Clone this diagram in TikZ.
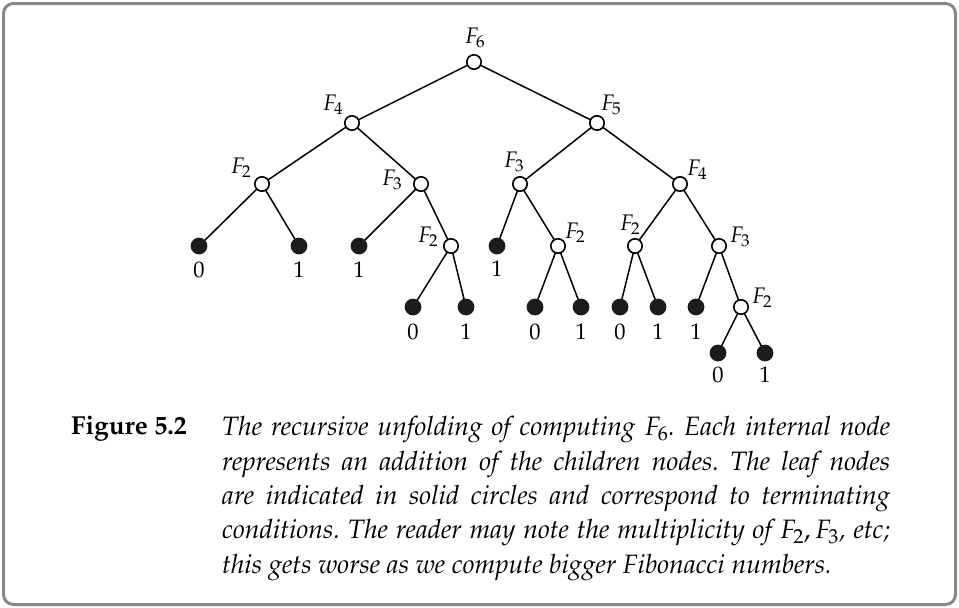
\documentclass[tikz,border=0pt]{standalone}
\usepackage[T1]{fontenc}
\usepackage{mathpazo}
\definecolor{framegray}{RGB}{136,136,136}
\definecolor{leafblack}{RGB}{28,28,28}
\tikzset{
  opennode/.style={circle, draw=black, fill=white, line width=1.6pt, minimum size=14.4pt, inner sep=0pt},
  leafnode/.style={circle, fill=leafblack, draw=none, minimum size=16.8pt, inner sep=0pt},
  edge/.style={draw=black, line width=1.5pt},
  flabel/.style={inner sep=0pt, font=\fontsize{22.5}{26}\selectfont},
  dlabel/.style={inner sep=0pt, font=\fontsize{22.5}{26}\selectfont},
}
\begin{document}
\begin{tikzpicture}[x=1pt,y=-1pt]
\useasboundingbox (0,0) rectangle (959,608);
\draw[framegray, line width=3pt, rounded corners=10pt] (3.5,3.5) rectangle (955.5,604.5);

\coordinate (c6) at (474,62);
\coordinate (c4a) at (352,123);
\coordinate (c5) at (597,123);
\coordinate (c2a) at (262,184);
\coordinate (c3a) at (421,184);
\coordinate (c3b) at (520,184);
\coordinate (c4b) at (680,184);
\coordinate (cl1) at (199,246);
\coordinate (cl2) at (299,246);
\coordinate (cl3) at (359,246);
\coordinate (c2b) at (451,246);
\coordinate (cl4) at (497,246);
\coordinate (c2c) at (558,246);
\coordinate (c2d) at (635,246);
\coordinate (c3c) at (719,246);
\coordinate (cl5) at (413,307);
\coordinate (cl6) at (466,307);
\coordinate (cl7) at (535,307);
\coordinate (cl8) at (581,307);
\coordinate (cl9) at (620,307);
\coordinate (cl10) at (658,307);
\coordinate (cl11) at (696,307);
\coordinate (c2e) at (741,307);
\coordinate (cl12) at (718,353);
\coordinate (cl13) at (765,353);

\path[edge] (c6)--(c4a) (c6)--(c5)
  (c4a)--(c2a) (c4a)--(c3a) (c2a)--(cl1) (c2a)--(cl2) (c3a)--(cl3) (c3a)--(c2b)
  (c2b)--(cl5) (c2b)--(cl6)
  (c5)--(c3b) (c5)--(c4b) (c3b)--(cl4) (c3b)--(c2c) (c2c)--(cl7) (c2c)--(cl8)
  (c4b)--(c2d) (c4b)--(c3c) (c2d)--(cl9) (c2d)--(cl10) (c3c)--(cl11) (c3c)--(c2e)
  (c2e)--(cl12) (c2e)--(cl13);

% internal nodes
\node[opennode] (n6) at (c6) {};
\node[opennode] (n4a) at (c4a) {};
\node[opennode] (n5) at (c5) {};
\node[opennode] (n2a) at (c2a) {};
\node[opennode] (n3a) at (c3a) {};
\node[opennode] (n3b) at (c3b) {};
\node[opennode] (n4b) at (c4b) {};
\node[opennode] (n2b) at (c2b) {};
\node[opennode] (n2c) at (c2c) {};
\node[opennode] (n2d) at (c2d) {};
\node[opennode] (n3c) at (c3c) {};
\node[opennode] (n2e) at (c2e) {};

% leaves
\node[leafnode] (l1) at (cl1) {};
\node[leafnode] (l2) at (cl2) {};
\node[leafnode] (l3) at (cl3) {};
\node[leafnode] (l4) at (cl4) {};
\node[leafnode] (l5) at (cl5) {};
\node[leafnode] (l6) at (cl6) {};
\node[leafnode] (l7) at (cl7) {};
\node[leafnode] (l8) at (cl8) {};
\node[leafnode] (l9) at (cl9) {};
\node[leafnode] (l10) at (cl10) {};
\node[leafnode] (l11) at (cl11) {};
\node[leafnode] (l12) at (cl12) {};
\node[leafnode] (l13) at (cl13) {};

% F labels
\node[flabel] (t6) at (475,38) {$F_6$};
\node[flabel] (t4a) at (333,105) {$F_4$};
\node[flabel] (t5) at (611,105) {$F_5$};
\node[flabel] (t2a) at (241,168) {$F_2$};
\node[flabel] (t3a) at (392,180) {$F_3$};
\node[flabel] (t3b) at (514,162) {$F_3$};
\node[flabel] (t4b) at (697,170) {$F_4$};
\node[flabel] (t2b) at (428,237) {$F_2$};
\node[flabel] (t2c) at (575,233) {$F_2$};
\node[flabel] (t2d) at (630,225) {$F_2$};
\node[flabel] (t3c) at (740,237) {$F_3$};
\node[flabel] (t2e) at (762,298) {$F_2$};

% digit labels
\node[dlabel] (d1) at (199,270) {0};
\node[dlabel] (d2) at (299,270) {1};
\node[dlabel] (d3) at (359,270) {1};
\node[dlabel] (d4) at (497,269) {1};
\node[dlabel] (d5) at (413,332) {0};
\node[dlabel] (d6) at (466,332) {1};
\node[dlabel] (d7) at (535,332) {0};
\node[dlabel] (d8) at (581,332) {1};
\node[dlabel] (d9) at (620,332) {0};
\node[dlabel] (d10) at (658,332) {1};
\node[dlabel] (d11) at (696,332) {1};
\node[dlabel] (d12) at (718,375) {0};
\node[dlabel] (d13) at (765,375) {1};

% caption
\node[anchor=base west, inner sep=0pt, font=\fontsize{26}{34.5}\selectfont\bfseries] (fig) at (71,434) {Figure 5.2};
\node[anchor=north west, inner sep=0pt, text width=668pt, align=justify,
      font=\fontsize{26.6}{34.3}\selectfont\itshape\frenchspacing] (cap) at (222,416.5) {The recursive unfolding of computing $F_6$. Each internal node\linebreak
represents an addition of the children nodes. The leaf nodes\linebreak
are indicated in solid circles and correspond to terminating\linebreak
conditions. The reader may note the multiplicity of $F_2, F_3$, etc;\linebreak
this gets worse as we compute bigger Fibonacci numbers.};
\end{tikzpicture}
\end{document}
